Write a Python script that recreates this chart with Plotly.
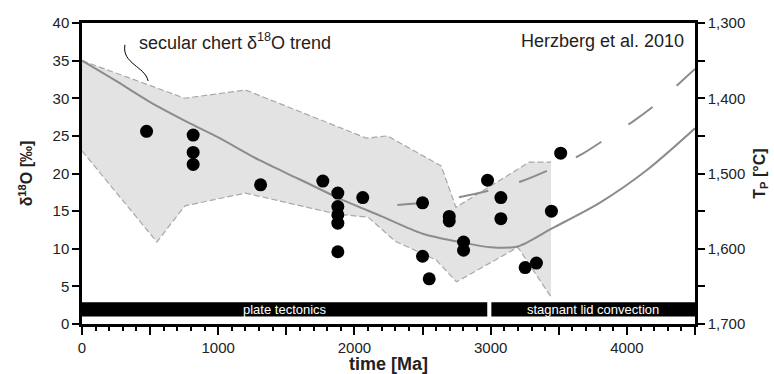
import plotly.graph_objects as go

# ---- data ----
# shaded secular chert d18O envelope (time Ma, d18O permil)
env_upper_t = [0, 755, 1200, 2088, 2242, 2637, 2745, 3282, 3443]
env_upper_v = [35, 30.0, 31.1, 24.7, 25.0, 21.0, 15.5, 21.5, 21.5]
env_lower_t = [0, 550, 755, 1200, 1870, 2100, 2300, 2600, 2750, 3200, 3443]
env_lower_v = [23, 10.9, 15.7, 17.4, 14.6, 14.2, 11.0, 8.5, 5.6, 10.2, 3.6]

# mantle potential temperature curves (Herzberg et al. 2010)
tp1_t = [0, 250, 500, 800, 1000, 1300, 1600, 1900, 2200, 2500, 2800, 3000, 3200, 3450, 3800, 4150, 4500]
tp1_v = [1350, 1377, 1405, 1434, 1452, 1482, 1508, 1534, 1557, 1580, 1592, 1598, 1597, 1573, 1539, 1495, 1440]
tp2_t = [2315, 2500, 2784, 3004, 3231, 3443, 3663, 3853, 4051, 4234, 4403, 4500]
tp2_v = [1542, 1539, 1531, 1522, 1510, 1494, 1475, 1453, 1430, 1405, 1377, 1361]

# d18O data points
pts_t = [474, 816, 816, 816, 1311, 1768, 1878, 1878, 1878, 1878, 1878, 2061,
         2500, 2500, 2549, 2696, 2696, 2801, 2801, 2977, 3075, 3075, 3253, 3336, 3446, 3514]
pts_v = [25.6, 25.1, 22.8, 21.2, 18.5, 19.0, 17.4, 15.6, 14.5, 13.4, 9.6, 16.8,
         16.1, 9.0, 6.0, 14.3, 13.7, 10.9, 9.8, 19.1, 16.8, 14.0, 7.5, 8.1, 15.0, 22.7]

# tectonic regimes
regime_names = ["plate tectonics", "stagnant lid convection"]
regime_start = [0, 3005]
regime_end = [2975, 4500]
regime_lo, regime_hi = 1.0, 2.9

x_major = list(range(0, 4501, 500))
x_labels = [str(v) if v % 1000 == 0 else "" for v in x_major]
y_ticks = list(range(0, 41, 5))
tp_ticks = list(range(1300, 1701, 50))
tp_labels = [f"{v:,}" if v % 100 == 0 else "" for v in tp_ticks]

FONT = "Liberation Sans, Arial, sans-serif"
GRAY = "#8c8c8c"

fig = go.Figure()

# envelope fill
fig.add_trace(go.Scatter(
    x=env_upper_t + env_lower_t[::-1], y=env_upper_v + env_lower_v[::-1],
    fill="toself", fillcolor="#e3e3e3", line=dict(width=0), mode="lines",
    hoverinfo="skip", xaxis="x", yaxis="y"))
for xs, ys in [(env_upper_t, env_upper_v), (env_lower_t, env_lower_v)]:
    fig.add_trace(go.Scatter(x=xs, y=ys, mode="lines",
                             line=dict(color="#a8a8a8", width=1.2, dash="6px,3px"),
                             xaxis="x", yaxis="y"))

# Tp curves
fig.add_trace(go.Scatter(x=tp1_t, y=tp1_v, mode="lines",
                         line=dict(color=GRAY, width=2, shape="spline", smoothing=0.8),
                         xaxis="x", yaxis="y2"))
fig.add_trace(go.Scatter(x=tp2_t, y=tp2_v, mode="lines",
                         line=dict(color=GRAY, width=2, shape="spline", smoothing=0.8,
                                   dash="30px,32px"),
                         xaxis="x", yaxis="y2"))

# data points
fig.add_trace(go.Scatter(x=pts_t, y=pts_v, mode="markers",
                         marker=dict(color="black", size=13, line=dict(width=0)),
                         xaxis="x", yaxis="y3"))

shapes = []
annotations = []
for name, s, e in zip(regime_names, regime_start, regime_end):
    shapes.append(dict(type="rect", xref="x", yref="y", x0=s, x1=e,
                       y0=regime_lo, y1=regime_hi, fillcolor="black",
                       line=dict(width=0)))
    annotations.append(dict(x=(s + e) / 2, y=(regime_lo + regime_hi) / 2, xref="x", yref="y",
                            text=name, showarrow=False,
                            font=dict(family=FONT, size=13, color="white")))

# pointer line for label
shapes.append(dict(type="path", xref="x", yref="y",
                   path="M 315,37.1 C 290,34.6 465,34.2 485,32.3",
                   line=dict(color="black", width=1)))

annotations.append(dict(x=403, y=37.6, xref="x", yref="y", xanchor="left", yanchor="middle",
                        text="secular chert δ<sup>18</sup>O trend", showarrow=False,
                        font=dict(family=FONT, size=18, color="#222")))
annotations.append(dict(x=0.985, y=37.6, xref="paper", yref="y", xanchor="right", yanchor="middle",
                        text="Herzberg et al. 2010", showarrow=False,
                        font=dict(family=FONT, size=18, color="#222")))

axis_common = dict(showgrid=False, zeroline=False, showline=True, linecolor="black",
                   linewidth=2.5, ticks="outside", tickcolor="black", tickwidth=2,
                   automargin=False,
                   tickfont=dict(family=FONT, size=15, color="#222"))

fig.update_layout(
    width=774, height=374,
    margin=dict(l=82, r=79, t=23, b=50, autoexpand=False),
    paper_bgcolor="white", plot_bgcolor="white",
    showlegend=False,
    shapes=shapes, annotations=annotations,
    xaxis=dict(**axis_common, range=[0, 4500], tickmode="array",
               tickvals=x_major, ticktext=x_labels, ticklen=8, mirror=True,
               minor=dict(tickmode="linear", tick0=0, dtick=100, ticks="outside",
                          ticklen=4, tickwidth=2, tickcolor="black", showgrid=False),
               title=dict(text="<b>time [Ma]</b>", standoff=0,
                          font=dict(family=FONT, size=18, color="#222"))),
    yaxis=dict(**axis_common, range=[0, 40], tickmode="array", tickvals=y_ticks,
               ticklen=7,
               title=dict(text="<b>δ<sup>18</sup>O [‰]</b>", standoff=16,
                          font=dict(family=FONT, size=16, color="#222"))),
    yaxis2=dict(**axis_common, range=[1700, 1300], overlaying="y", side="right",
                tickmode="array", tickvals=tp_ticks, ticktext=tp_labels, ticklen=7,
                title=dict(text="<b>T<sub>P</sub> [°C]</b>", standoff=10,
                           font=dict(family=FONT, size=16, color="#222"))),
    yaxis3=dict(range=[0, 40], overlaying="y", visible=False),
)

fig.write_html("out.html")
